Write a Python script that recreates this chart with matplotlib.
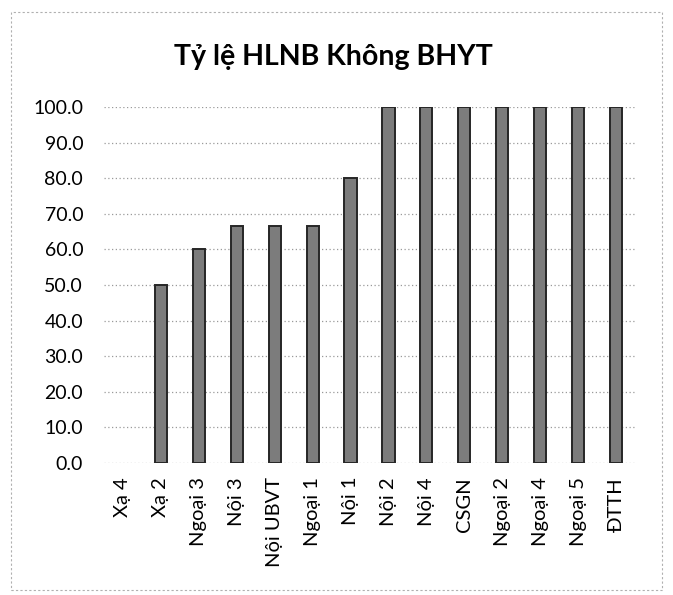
import matplotlib.pyplot as plt
from matplotlib.patches import Rectangle

# Dữ liệu
khoa = ['Xạ 4', 'Xạ 2', 'Ngoại 3', 'Nội 3', 'Nội UBVT', 'Ngoại 1', 'Nội 1',
        'Nội 2', 'Nội 4', 'CSGN', 'Ngoại 2', 'Ngoại 4', 'Ngoại 5', 'ĐTTH']
ty_le = [0.0, 50.0, 60.0, 66.7, 66.7, 66.7, 80.0,
         100.0, 100.0, 100.0, 100.0, 100.0, 100.0, 100.0]
y_ticks = [0, 10, 20, 30, 40, 50, 60, 70, 80, 90, 100]

plt.rcParams['font.family'] = ['Lato', 'DejaVu Sans']

fig = plt.figure(figsize=(6.73, 5.95), dpi=100)
ax = fig.add_axes([0.1545, 0.2218, 0.789, 0.5984])

x = range(len(khoa))
# cột giá trị 0 không vẽ viền
vien = [0 if v == 0 else 1.4 for v in ty_le]
ax.bar(x, ty_le, width=0.32, color='#7c7c7c', edgecolor='#262626', linewidth=vien, zorder=3)

ax.set_xlim(-0.5, len(khoa) - 0.5)
ax.set_ylim(0, 100)
ax.set_yticks(y_ticks)
ax.set_yticklabels([f'{v:.1f}' for v in y_ticks], fontsize=14)
ax.set_xticks(list(x))
ax.set_xticklabels(khoa, rotation=90, fontsize=14.5, ha='center', va='top')
ax.tick_params(axis='y', length=0, pad=15)
ax.tick_params(axis='x', length=0, pad=10)

ax.grid(axis='y', color='#9a9a9a', linestyle=(0, (1, 2)), linewidth=0.9, zorder=0)
for s in ax.spines.values():
    s.set_visible(False)

fig.text(0.495, 0.905, 'Tỷ lệ HLNB Không BHYT', ha='center', va='center',
         fontsize=20.5, fontweight='bold')

# Khung viền biểu đồ
fig.patches.append(Rectangle((11 / 673, 1 - 590 / 595), 651 / 673, 578 / 595,
                             transform=fig.transFigure, fill=False,
                             edgecolor='#b0b0b0', linestyle=(0, (2, 2)), linewidth=0.8))

fig.savefig('out.png', dpi=100)
